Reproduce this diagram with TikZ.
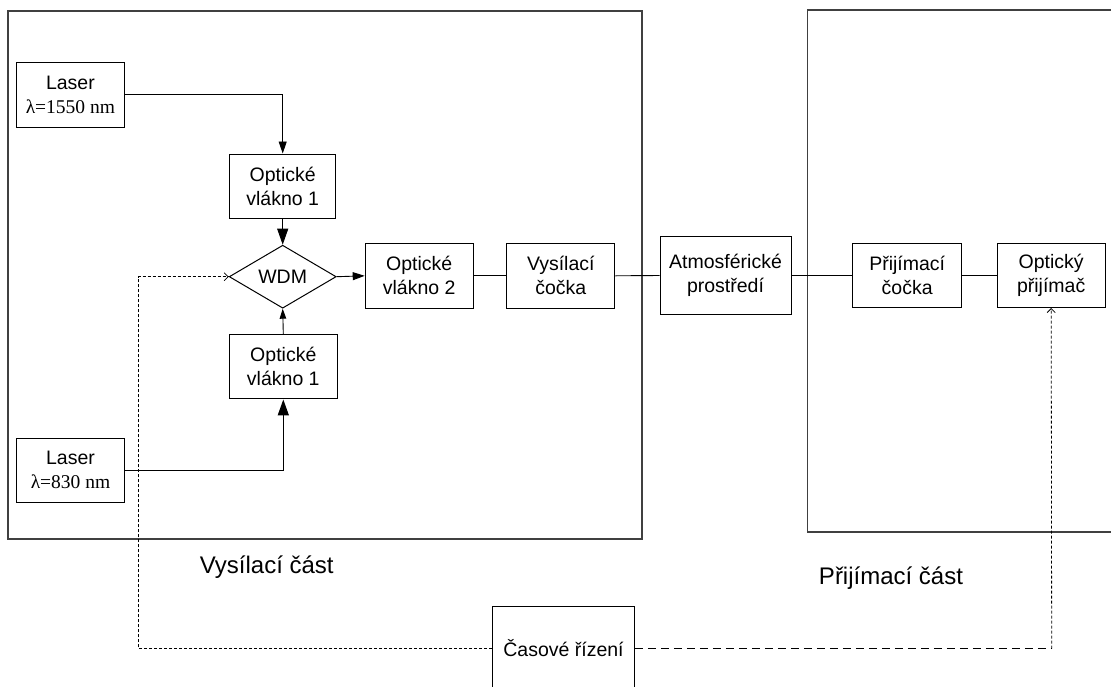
\documentclass[tikz,border=0pt]{standalone}
\usepackage{fontspec}
\setmainfont{Liberation Sans}
\newfontfamily\serifA{Liberation Serif}
\usetikzlibrary{arrows.meta,shapes.geometric}
\begin{document}
\begin{tikzpicture}[x=1pt,y=-1pt,
  blk/.style={draw,line width=1pt,inner sep=0pt,align=center,
    font=\fontsize{19.5}{24}\selectfont},
  frame/.style={draw=black!75,line width=1.3pt},
  lbl/.style={font=\fontsize{24}{28}\selectfont},
  conn/.style={line width=0.9pt},
  bigtip/.style={-{Triangle[length=16pt,width=11pt]}},
  midtip/.style={-{Triangle[length=12pt,width=8pt]}},
  smalltip/.style={-{Triangle[length=10pt,width=6.5pt]}},
  finedash/.style={line width=0.8pt,dash pattern=on 3pt off 2pt},
  longdash/.style={line width=0.8pt,dash pattern=on 8pt off 5pt},
  opentip/.style={-{Straight Barb[length=4pt,width=8pt]}}
]
\useasboundingbox (0,0) rectangle (1111,686);
\fill[white] (0,0) rectangle (1111,686);

% frames
\draw[frame] (8,11) rectangle (642,539);
\draw[frame] (807.5,10) rectangle (1125,532);

% nodes
\node[blk,minimum width=108pt,minimum height=65pt] (laserA) at (70.4,94.7)
  {Laser\\{\serifA λ=1550 nm}};
\node[blk,minimum width=108pt,minimum height=64pt] (laserB) at (70.5,470.3)
  {Laser\\{\serifA λ=830 nm}};
\node[blk,minimum width=106pt,minimum height=64pt] (ov1a) at (282.7,186)
  {Optické\\vlákno 1};
\node[blk,diamond,aspect=1.7,minimum width=107pt,minimum height=63pt] (wdm) at (282.7,276.7)
  {WDM};
\node[blk,minimum width=108pt,minimum height=64.5pt] (ov1b) at (283.3,366.7)
  {Optické\\vlákno 1};
\node[blk,minimum width=108pt,minimum height=65pt] (ov2) at (419.2,275.8)
  {Optické\\vlákno 2};
\node[blk,minimum width=108pt,minimum height=65pt] (vcocka) at (560.8,275.8)
  {Vysílací\\čočka};
\node[blk,minimum width=131pt,minimum height=78pt] (atm) at (725.5,275.5)
  {Atmosférické\\prostředí};
\node[blk,minimum width=109pt,minimum height=64pt] (pcocka) at (907.2,275.5)
  {Přijímací\\čočka};
\node[blk,minimum width=108pt,minimum height=64pt] (oprij) at (1051.2,275.5)
  {Optický\\přijímač};
\node[blk,minimum width=141.6pt,minimum height=84pt] (casove) at (563.5,648.5)
  {Časové řízení};

% labels
\node[lbl] (vcast) at (266.7,566.7) {Vysílací část};
\node[lbl] (pcast) at (891,578) {Přijímací část};

% solid connectors
\draw[conn,midtip] (laserA.east) -| (ov1a.north);
\draw[conn,bigtip] (ov1a.south) -- (wdm.north);
\draw[line width=1.5pt,bigtip] (laserB.east) -| (ov1b.south);
\draw[conn,smalltip] (ov1b.north) -- (wdm.south);
\draw[conn,midtip] (wdm.east) -- (ov2.west);
\draw[conn] (ov2.east) -- (vcocka.west);
\draw[conn] (vcocka.east) -- (atm.west);
\draw[conn] (atm.east) -- (pcocka.west);
\draw[conn] (pcocka.east) -- (oprij.west);

% dashed timing connectors
\coordinate (dl) at (138.3,648.5);
\coordinate (dr) at (1051.7,648.5);
\draw[finedash,opentip] (casove.west) -- (dl) |- (wdm.west);
\draw[longdash] (casove.east) -- (dr);
\draw[finedash,opentip] (dr) -- (oprij.south);
\end{tikzpicture}
\end{document}
